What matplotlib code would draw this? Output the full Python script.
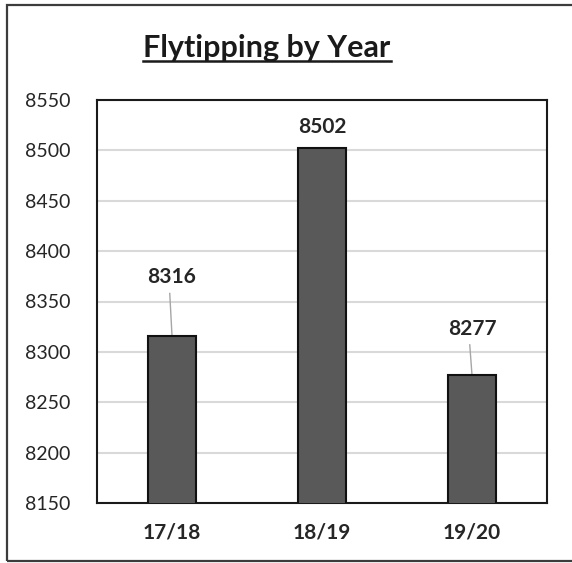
import matplotlib
matplotlib.use("Agg")
import matplotlib.pyplot as plt
from matplotlib.patches import Rectangle
from matplotlib.lines import Line2D

# Data
years = ["17/18", "18/19", "19/20"]
counts = [8316, 8502, 8277]
label_heights = [8374, 8523, 8323]   # where each value label sits
show_leader = [True, False, True]
y_ticks = [8150, 8200, 8250, 8300, 8350, 8400, 8450, 8500, 8550]
title = "Flytipping by Year"

plt.rcParams["font.family"] = ["Lato", "DejaVu Sans"]

W, H = 572, 563
fig = plt.figure(figsize=(W / 100, H / 100), dpi=100)
fig.patch.set_facecolor("white")

# Outer chart frame (open on the right)
fig.patches.append(Rectangle((7 / W, 1 - 561 / H), 1.2, 556 / H,
                             transform=fig.transFigure, fill=False,
                             edgecolor="#3c3c3c", linewidth=1.6, clip_on=False))

ax = fig.add_axes([97 / W, 1 - 503 / H, 450 / W, 403 / H])
x = list(range(len(years)))
ax.bar(x, counts, width=0.32, color="#595959", edgecolor="#111111",
       linewidth=1.5, zorder=3)

ax.set_xlim(-0.5, len(years) - 0.5)
ax.set_ylim(y_ticks[0], y_ticks[-1])
ax.set_yticks(y_ticks)
ax.set_yticklabels([str(t) for t in y_ticks], fontsize=14, color="#262626")
ax.set_xticks(x)
ax.set_xticklabels(years, fontsize=15, fontweight="bold", color="#262626")
ax.tick_params(axis="both", length=0)
ax.tick_params(axis="y", pad=19)
ax.tick_params(axis="x", pad=14)
ax.grid(axis="y", color="#d9d9d9", linewidth=1.5, zorder=0)
for s in ax.spines.values():
    s.set_color("#1a1a1a")
    s.set_linewidth(1.5)

# Value labels with leader lines
for i, (v, ly, lead) in enumerate(zip(counts, label_heights, show_leader)):
    ax.text(i, ly, str(v), ha="center", va="center", fontsize=15,
            fontweight="bold", color="#262626", zorder=4)
    if lead:
        ax.plot([i - 0.015, i], [ly - 16, v], color="#a6a6a6",
                linewidth=1.0, zorder=2)

# Underlined title
tt = fig.text(267 / W, 1 - 48 / H, title, ha="center", va="center",
              fontsize=22, fontweight="bold", color="#1a1a1a")
fig.canvas.draw()
bb = tt.get_window_extent(fig.canvas.get_renderer())
inv = fig.transFigure.inverted()
(x0, y0), (x1, y1) = inv.transform([[bb.x0, bb.y0], [bb.x1, bb.y1]])
fig.lines.append(Line2D([x0, x1], [y0 + 1 / H, y0 + 1 / H],
                        transform=fig.transFigure, color="#1a1a1a",
                        linewidth=1.8))

fig.savefig("out.png", dpi=100, facecolor="white")
